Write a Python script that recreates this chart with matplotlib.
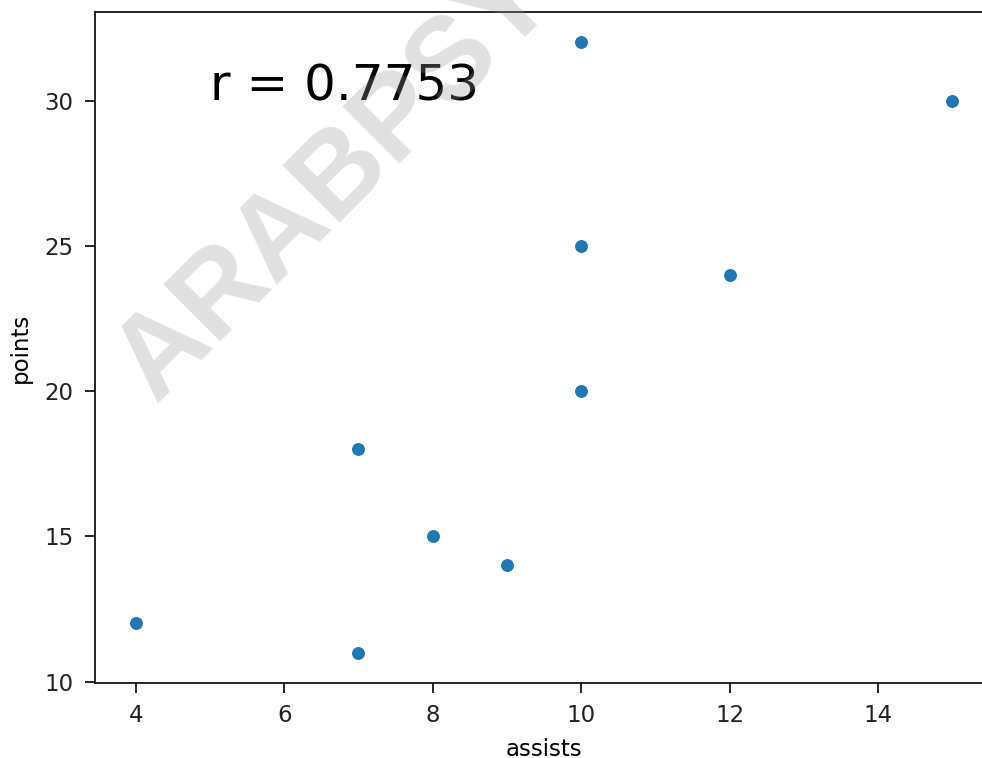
import matplotlib
matplotlib.use('Agg')
import matplotlib.pyplot as plt

assists = [4, 7, 7, 8, 9, 10, 10, 10, 12, 15]
points = [12, 11, 18, 15, 14, 20, 25, 32, 24, 30]
r_label = 'r = 0.7753'
watermark = 'ARABPSY'

fig = plt.figure(figsize=(982/150, 758/150), dpi=150)
# right edge of the axes sits just past the picture, as in the cropped original
ax = fig.add_axes([95/982, 75/758, 898/982, 671/758])
ax.scatter(assists, points, s=45, color='#1f77b4', edgecolor='white', linewidth=0.5, zorder=3)
ax.set_xlabel('assists', fontsize=11, labelpad=5)
ax.set_ylabel('points', fontsize=11, labelpad=6)
ax.set_xticks([4, 6, 8, 10, 12, 14])
ax.set_yticks([10, 15, 20, 25, 30])
ax.tick_params(length=4.8, pad=5.5, labelsize=11, colors='#222222')
ax.tick_params(color='black')
ax.text(5, 30, r_label, fontsize=24)

fig.text(155/982, (758-404)/758, watermark, fontsize=56, fontweight='bold',
         family='Liberation Sans', color='#9a9a9a', alpha=0.3, rotation=45,
         rotation_mode='anchor', ha='left', va='baseline', zorder=10)

fig.savefig('out.png', dpi=150)
